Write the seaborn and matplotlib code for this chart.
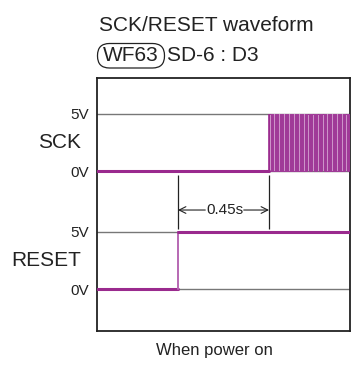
import pandas as pd
import matplotlib
matplotlib.use("Agg")
import matplotlib.pyplot as plt
from matplotlib.patches import FancyBboxPatch
import seaborn as sns

# waveform data (time in seconds, level in volts)
reset_t = [0.0, 0.40, 0.40, 1.25]
reset_v = [0, 0, 5, 5]
sck_idle_t = [0.0, 0.85]
sck_idle_v = [0, 0]
# rising edges of SCK clock pulses after the 0.45s delay
clk_rise = [0.852, 0.864, 0.877, 0.889, 0.902, 0.914, 0.927, 0.939, 0.952, 0.964,
            0.977, 0.989, 1.002, 1.014, 1.027, 1.039, 1.052, 1.064, 1.077, 1.089,
            1.102, 1.114, 1.127, 1.139, 1.152, 1.164, 1.177, 1.189, 1.202, 1.214,
            1.227, 1.239]
clk_width = 0.006
delay_label = "0.45s"
ytick_labels = ["0V", "5V", "0V", "5V"]

sck_offset = 10.25
purple = "#9a2a8e"
light_purple = "#b768b3"

sns.set_theme(style="white")
plt.rcParams["font.family"] = ["Liberation Sans", "DejaVu Sans"]

fig = plt.figure(figsize=(3.52, 3.71), dpi=100)
ax = fig.add_axes([97 / 352, 1 - 331 / 371, 253 / 352, 253 / 371])

# reference levels
for lvl in [0, 5, sck_offset, sck_offset + 5]:
    ax.axhline(lvl, color="#777777", lw=1, zorder=1)

# SCK clock burst (edges only, light fill between)
ct, cv = [], []
for r in clk_rise:
    ct += [r, r, r + clk_width, r + clk_width]
    cv += [0, 5, 5, 0]
clk = pd.DataFrame({"t": ct, "v": [x + sck_offset for x in cv]})
ax.fill_between([clk_rise[0], 1.25], sck_offset, sck_offset + 5,
                color="#cf97cb", lw=0, zorder=2)
sns.lineplot(data=clk, x="t", y="v", sort=False, estimator=None, ax=ax,
             color="#a03a98", lw=0.75, zorder=3)
ax.vlines(clk_rise[0], sck_offset, sck_offset + 5, color=purple, lw=1.2, zorder=3)

# SCK idle low
idle = pd.DataFrame({"t": sck_idle_t, "v": [x + sck_offset for x in sck_idle_v]})
sns.lineplot(data=idle, x="t", y="v", sort=False, estimator=None, ax=ax,
             color=purple, lw=2.2, zorder=4)

# RESET
rst = pd.DataFrame({"t": reset_t, "v": reset_v})
sns.lineplot(data=rst.iloc[:2], x="t", y="v", sort=False, estimator=None, ax=ax,
             color=purple, lw=2.2, zorder=4)
sns.lineplot(data=rst.iloc[1:3], x="t", y="v", sort=False, estimator=None, ax=ax,
             color=light_purple, lw=1.4, zorder=4)
sns.lineplot(data=rst.iloc[2:], x="t", y="v", sort=False, estimator=None, ax=ax,
             color=purple, lw=2.2, zorder=4)

# delay marker
t0, t1 = reset_t[1], sck_idle_t[1]
ax.vlines([t0, t1], 5.2, 9.9, color="#222222", lw=0.9, zorder=2)
ymark = 6.87
ax.annotate("", xy=(t0, ymark), xytext=(0.535, ymark),
            arrowprops=dict(arrowstyle="->", lw=0.8, color="#222222", shrinkA=0, shrinkB=0))
ax.annotate("", xy=(t1, ymark), xytext=(0.725, ymark),
            arrowprops=dict(arrowstyle="->", lw=0.8, color="#222222", shrinkA=0, shrinkB=0))
ax.text((t0 + t1) / 2 + 0.005, ymark, delay_label, ha="center", va="center",
        fontsize=11, color="#222222")

ax.set_xlim(0, 1.25)
ax.set_ylim(-3.65, 18.35)
ax.set_xticks([])
ax.set_yticks([0, 5, sck_offset, sck_offset + 5])
ax.set_yticklabels(ytick_labels, fontsize=11, color="#222222")
ax.tick_params(axis="y", length=0, pad=6)
ax.set_xlabel("")
ax.set_ylabel("")
for s in ax.spines.values():
    s.set_color("#222222")
    s.set_linewidth(1.3)

ax.text(-0.063, sck_offset + 2.5, "SCK", transform=ax.get_yaxis_transform(),
        ha="right", va="center", fontsize=15, color="#222222")
ax.text(-0.063, 2.45, "RESET", transform=ax.get_yaxis_transform(),
        ha="right", va="center", fontsize=15, color="#222222")

fig.text(99 / 352, 1 - 25.7 / 371, "SCK/RESET waveform", ha="left", va="center",
         fontsize=15, color="#222222")
# rounded tag around WF63
tag = FancyBboxPatch((0.975, 3.03), 0.67, 0.245,
                     boxstyle="round,pad=0,rounding_size=0.12",
                     transform=fig.dpi_scale_trans, fc="none", ec="#222222", lw=0.9)
fig.patches.append(tag)
fig.text(131 / 352, 1 - 55.5 / 371, "WF63", ha="center", va="center", fontsize=15,
         color="#222222")
fig.text(167 / 352, 1 - 55.5 / 371, "SD-6 : D3", ha="left", va="center",
         fontsize=15, color="#222222")
fig.text(214.5 / 352, 1 - 350 / 371, "When power on", ha="center", va="center",
         fontsize=12, color="#222222")

fig.savefig("out.png", dpi=100)
